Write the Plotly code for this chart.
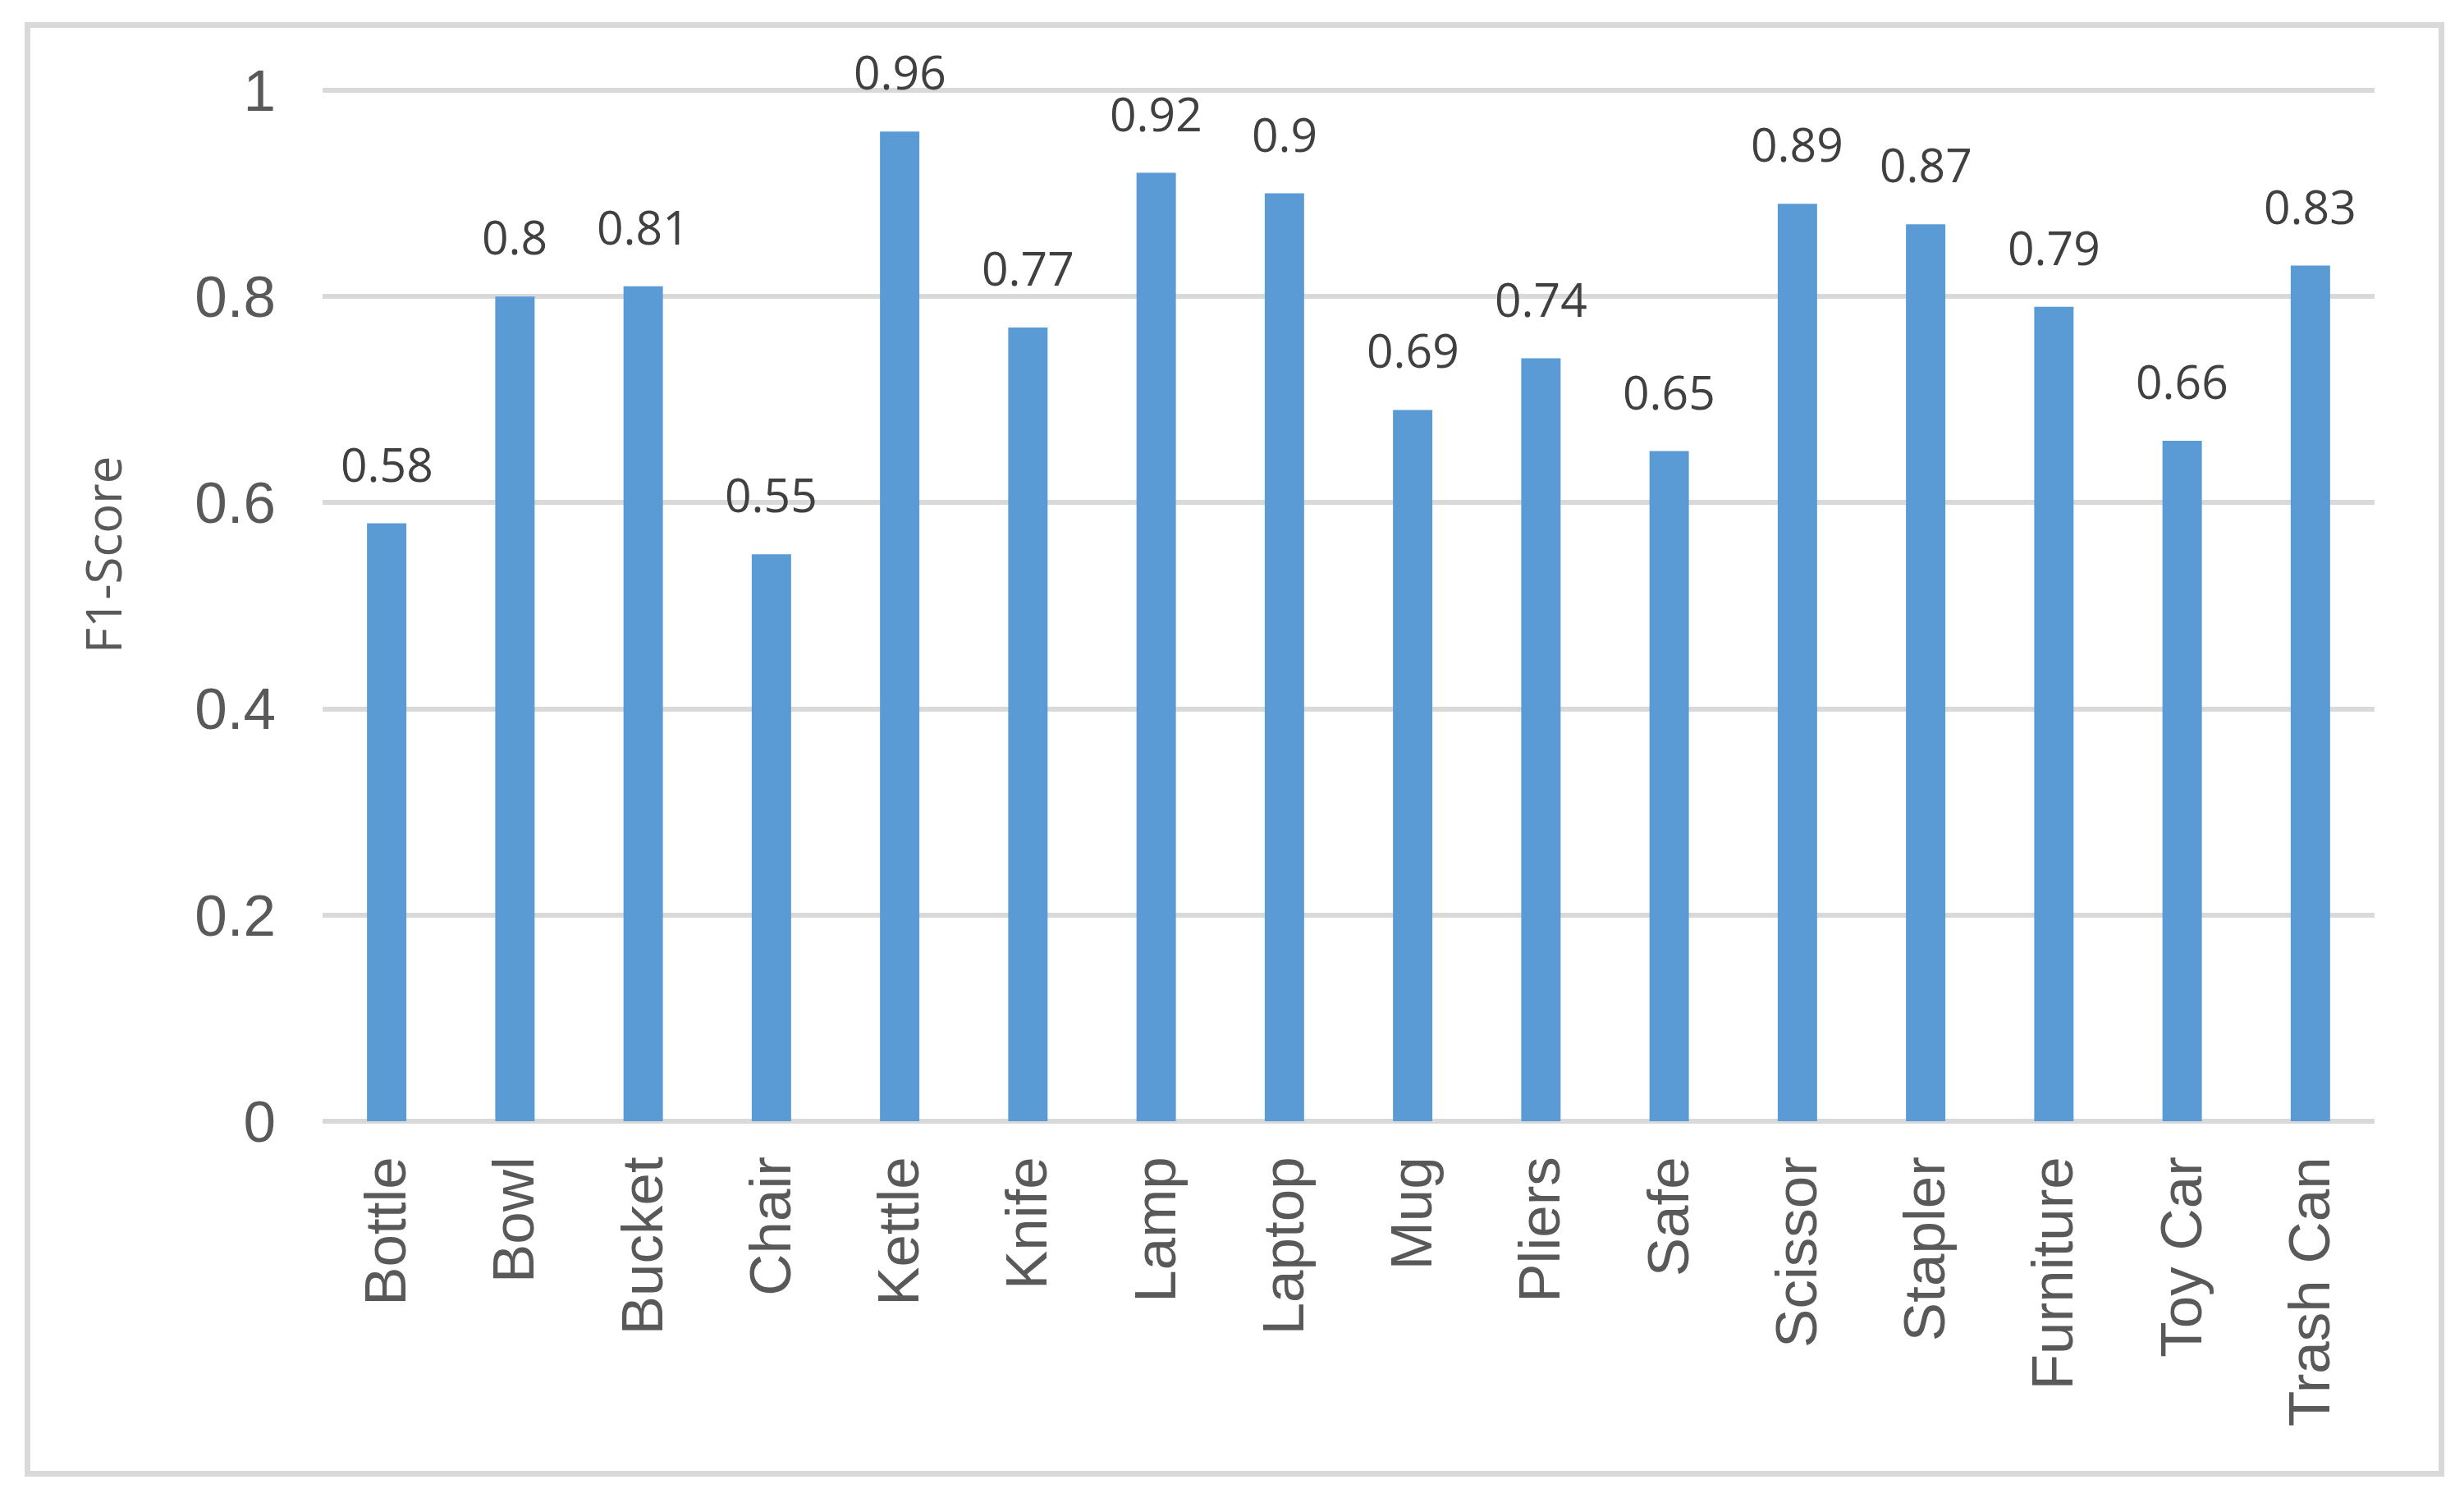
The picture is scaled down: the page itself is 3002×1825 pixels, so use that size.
import plotly.graph_objects as go

categories = ["Bottle", "Bowl", "Bucket", "Chair", "Kettle", "Knife", "Lamp", "Laptop",
              "Mug", "Pliers", "Safe", "Scissor", "Stapler", "Furniture", "Toy Car", "Trash Can"]
f1_scores = [0.58, 0.8, 0.81, 0.55, 0.96, 0.77, 0.92, 0.9,
             0.69, 0.74, 0.65, 0.89, 0.87, 0.79, 0.66, 0.83]
y_ticks = [0, 0.2, 0.4, 0.6, 0.8, 1]

W, H = 3002, 1825
Y_TOP = 1.004
L, R, T, B = 393, 109, 105, 459
pw, ph = W - L - R, H - T - B

fig = go.Figure()
fig.add_trace(go.Bar(x=categories, y=f1_scores, marker=dict(color="#5b9bd5", line=dict(width=0)),
                     hoverinfo="x+y"))

for c, v in zip(categories, f1_scores):
    fig.add_annotation(x=c, y=v, text=f"{v:g}", showarrow=False, yanchor="bottom",
                       yshift=32, font=dict(family="Open Sans", size=57, color="#404040"))

def px_x(p):
    return (p - L) / pw

def px_y(p):
    return (H - B - p) / ph

fig.add_annotation(xref="paper", yref="paper", x=px_x(125), y=px_y(676), text="F1-Score",
                   textangle=-90, showarrow=False, xanchor="center", yanchor="middle",
                   font=dict(family="Open Sans", size=60, color="#595959"))

fig.add_shape(type="rect", xref="paper", yref="paper",
              x0=px_x(33.5), x1=px_x(2974.5), y0=px_y(1795.5), y1=px_y(30.5),
              line=dict(color="#d9d9d9", width=7), layer="below")

fig.update_layout(
    width=W, height=H,
    margin=dict(l=L, r=R, t=T, b=B, pad=0),
    paper_bgcolor="white", plot_bgcolor="white",
    bargap=0.693, showlegend=False,
    xaxis=dict(tickangle=-90, showgrid=False, showline=False, zeroline=False,
               tickfont=dict(family="Liberation Sans", size=71, color="#595959"),
               ticklabelstandoff=28),
    yaxis=dict(range=[0, Y_TOP], tickvals=y_ticks, ticktext=[f"{t:g}" for t in y_ticks],
               showgrid=True, gridcolor="#d9d9d9", gridwidth=6,
               zeroline=True, zerolinecolor="#d9d9d9", zerolinewidth=6, showline=False,
               tickfont=dict(family="Liberation Sans", size=71, color="#595959"),
               ticklabelstandoff=56),
)

fig.write_html("out.html", config={"displayModeBar": False},
               post_script="document.body.style.margin='0';document.body.style.padding='0';")
